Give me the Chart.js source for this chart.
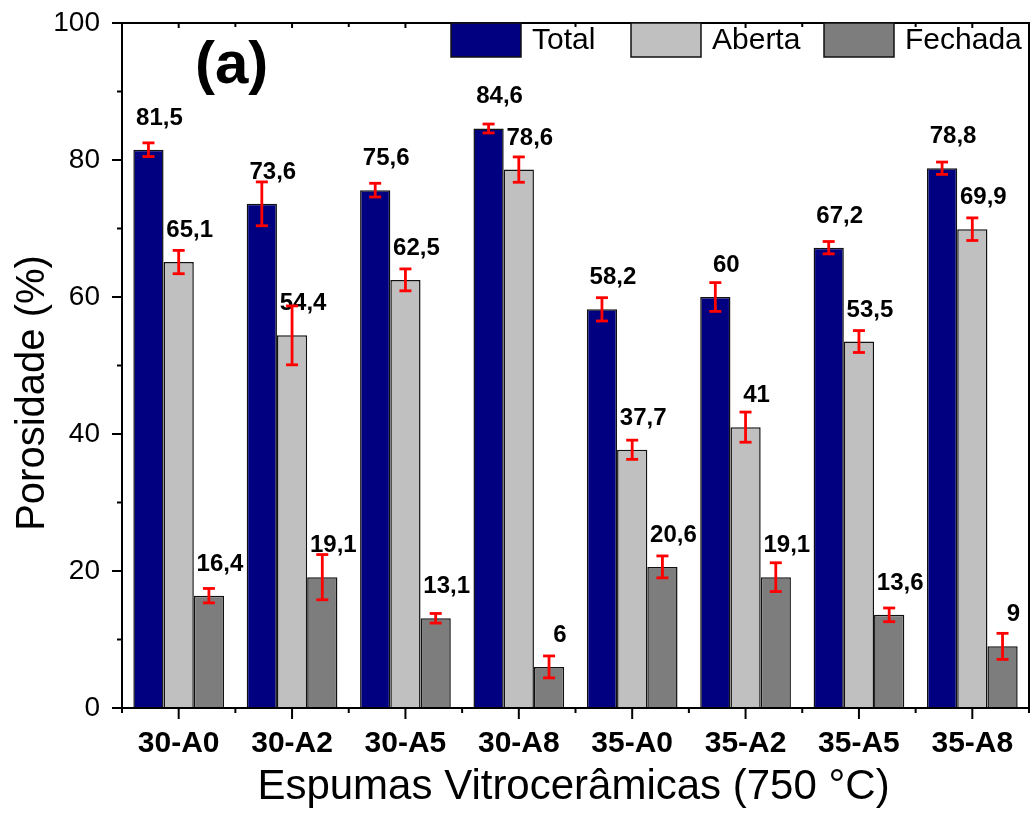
<!DOCTYPE html>
<html>
<head>
<meta charset="utf-8">
<script src="https://cdn.jsdelivr.net/npm/chart.js@4/dist/chart.umd.min.js"></script>
<style>
  html, body { margin: 0; padding: 0; background: #fff; }
  canvas { display: block; }
</style>
</head>
<body>
<canvas id="chart" width="1032" height="816"></canvas>
<script>
// Porosity of the glass-ceramic foams (750 °C)
const categories = ['30-A0', '30-A2', '30-A5', '30-A8', '35-A0', '35-A2', '35-A5', '35-A8'];
const seriesNames = ['Total', 'Aberta', 'Fechada'];

const total   = [81.5, 73.6, 75.6, 84.6, 58.2, 60, 67.2, 78.8];
const aberta  = [65.1, 54.4, 62.5, 78.6, 37.7, 41, 53.5, 69.9];
const fechada = [16.4, 19.1, 13.1, 6, 20.6, 19.1, 13.6, 9];

// standard deviations (error bars)
const totalErr   = [1.0, 3.2, 1.0, 0.65, 1.7, 2.1, 0.9, 0.9];
const abertaErr  = [1.7, 4.3, 1.6, 1.85, 1.4, 2.2, 1.6, 1.65];
const fechadaErr = [1.05, 3.3, 0.7, 1.6, 1.6, 2.1, 1.0, 1.9];

const yTickValues = [0, 20, 40, 60, 80, 100];

const FONT = '"Liberation Sans", Arial, Helvetica, sans-serif';
const fmt = v => String(v).replace('.', ',');

function line(ctx, x1, y1, x2, y2) {
  ctx.beginPath();
  ctx.moveTo(x1, y1);
  ctx.lineTo(x2, y2);
  ctx.stroke();
}

const decorations = {
  id: 'decorations',
  afterDatasetsDraw(chart) {
    const { ctx, chartArea: a, scales: { x, y } } = chart;
    ctx.save();

    // value labels above each bar
    ctx.fillStyle = '#000';
    ctx.font = `bold 24px ${FONT}`;
    ctx.textAlign = 'center';
    ctx.textBaseline = 'alphabetic';
    chart.data.datasets.forEach((ds, di) => {
      chart.getDatasetMeta(di).data.forEach((bar, i) => {
        const v = ds.data[i];
        ctx.fillText(fmt(v), bar.x + 11, y.getPixelForValue(v) - 25);
      });
    });

    // error bars
    ctx.strokeStyle = '#ff0000';
    ctx.lineWidth = 2.8;
    chart.data.datasets.forEach((ds, di) => {
      chart.getDatasetMeta(di).data.forEach((bar, i) => {
        const v = ds.data[i], e = ds.errors[i];
        const yt = y.getPixelForValue(v + e), yb = y.getPixelForValue(v - e);
        line(ctx, bar.x, yt, bar.x, yb);
        line(ctx, bar.x - 6, yt, bar.x + 6, yt);
        line(ctx, bar.x - 6, yb, bar.x + 6, yb);
      });
    });

    // frame and tick marks
    ctx.strokeStyle = '#000';
    ctx.lineWidth = 2;
    ctx.strokeRect(a.left, a.top, a.right - a.left, a.bottom - a.top);
    for (let v = 0; v <= 100; v += 10) {
      const py = y.getPixelForValue(v);
      const len = v % 20 === 0 ? 10 : 5;
      line(ctx, a.left - len, py, a.left, py);
    }
    for (let i = 0; i < categories.length; i++) {
      const cx = x.getPixelForValue(i);
      line(ctx, cx, a.bottom, cx, a.bottom + 11);
      line(ctx, cx, a.top, cx, a.top + 5);
    }
    for (let i = 0; i <= categories.length; i++) {
      const bx = x.getPixelForValue(i - 0.5);
      line(ctx, bx, a.bottom, bx, a.bottom + 5);
      line(ctx, bx, a.top, bx, a.top + 4);
    }

    // legend
    const legendBoxes = [451, 631, 824];
    ctx.lineWidth = 1.5;
    ctx.font = `30px ${FONT}`;
    ctx.textAlign = 'left';
    ctx.textBaseline = 'middle';
    chart.data.datasets.forEach((ds, di) => {
      const bx = legendBoxes[di];
      ctx.fillStyle = ds.backgroundColor;
      ctx.fillRect(bx, a.top, 70, 34);
      ctx.strokeStyle = '#111';
      ctx.strokeRect(bx, a.top, 70, 34);
      ctx.fillStyle = '#000';
      ctx.fillText(ds.label, bx + 81, a.top + 18);
    });

    // panel label
    ctx.font = `bold 60px ${FONT}`;
    ctx.textBaseline = 'alphabetic';
    ctx.fillText('(a)', 195, 83);

    // axis titles
    ctx.font = `42px ${FONT}`;
    ctx.textAlign = 'center';
    ctx.fillText('Espumas Vitrocerâmicas (750 °C)', (a.left + a.right) / 2 - 2, 799);

    ctx.save();
    ctx.translate(33, 393);
    ctx.rotate(-Math.PI / 2);
    ctx.font = `40px ${FONT}`;
    ctx.textBaseline = 'middle';
    ctx.fillText('Porosidade (%)', 0, 0);
    ctx.restore();

    ctx.restore();
  }
};

new Chart(document.getElementById('chart'), {
  type: 'bar',
  data: {
    labels: categories,
    datasets: [
      { label: seriesNames[0], data: total,   errors: totalErr,   backgroundColor: '#000080' },
      { label: seriesNames[1], data: aberta,  errors: abertaErr,  backgroundColor: '#c0c0c0' },
      { label: seriesNames[2], data: fechada, errors: fechadaErr, backgroundColor: '#7d7d7d' }
    ]
  },
  options: {
    responsive: false,
    animation: false,
    devicePixelRatio: 1,
    layout: { padding: { top: 23, right: 3, left: 0, bottom: 0 } },
    datasets: {
      bar: { categoryPercentage: 0.8, barPercentage: 1, borderColor: '#111', borderWidth: 1.5 }
    },
    plugins: { legend: { display: false }, tooltip: { enabled: false } },
    scales: {
      x: {
        grid: { display: false, drawTicks: false },
        border: { display: false },
        ticks: {
          color: '#000', padding: 18, maxRotation: 0, autoSkip: false,
          font: { family: FONT, size: 30, weight: 'bold' }
        },
        afterFit(s) { s.height = 108; s.paddingLeft = 0; s.paddingRight = 0; }
      },
      y: {
        min: 0, max: 100,
        grid: { display: false, drawTicks: false },
        border: { display: false },
        afterBuildTicks(s) { s.ticks = yTickValues.map(v => ({ value: v })); },
        ticks: { color: '#000', padding: 22, font: { family: FONT, size: 28 } },
        afterFit(s) { s.width = 122; s.paddingTop = 0; s.paddingBottom = 0; }
      }
    }
  },
  plugins: [decorations]
});
</script>
</body>
</html>
